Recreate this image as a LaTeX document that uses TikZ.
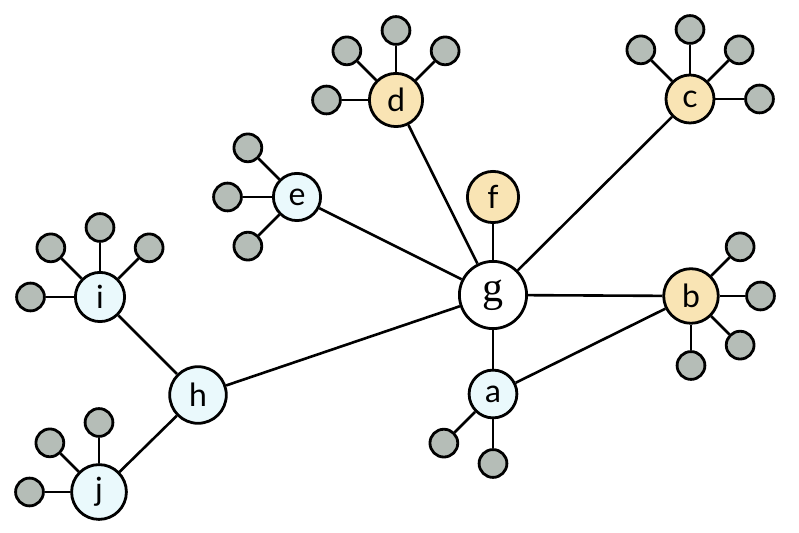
\documentclass[tikz,border=0pt]{standalone}
\usepackage{fontspec}
\setsansfont{Lato}
\newfontfamily\gfont{Liberation Serif}
\usetikzlibrary{calc}
\definecolor{nodeorange}{RGB}{249,228,180}
\definecolor{nodeblue}{RGB}{234,249,252}
\definecolor{leafgray}{RGB}{181,189,183}
\begin{document}
\begin{tikzpicture}[x=0.5pt,y=0.5pt,
  hub/.style={circle,draw=black,line width=1.4pt,inner sep=0pt,font=\sffamily\fontsize{16}{18}\selectfont},
  warm/.style={hub,fill=nodeorange},
  cool/.style={hub,fill=nodeblue},
  leaf/.style={circle,draw=black,line width=1.4pt,fill=leafgray,minimum size=13.9pt,inner sep=0pt},
  link/.style={line width=1.3pt}]
\useasboundingbox (0,0) rectangle (799,-533);
% main nodes
\node[hub, fill=white, minimum size=33.6pt, font=\gfont\fontsize{21}{24}\selectfont] (g) at (493,-295) {g};
\node[warm, minimum size=25.6pt] (f) at (493,-197) {f};
\node[cool, minimum size=23.9pt] (a) at (493,-394) {a};
\node[warm, minimum size=27.3pt] (b) at (691,-296) {b};
\node[warm, minimum size=24pt] (c) at (690,-99) {c};
\node[warm, minimum size=26.6pt] (d) at (396,-100) {d};
\node[cool, minimum size=23.6pt] (e) at (297,-197) {e};
\node[cool, minimum size=28.3pt] (h) at (198,-395) {h};
\node[cool, minimum size=24.6pt] (i) at (100,-297) {i};
\node[cool, minimum size=27.4pt] (j) at (99,-492) {j};
% main connectors
\draw[link] (g) -- (f);
\draw[link] (g) -- (a);
\draw[link] (g) -- (b);
\draw[link] (g) -- (c);
\draw[link] (g) -- (d);
\draw[link] (g) -- (e);
\draw[link] (g) -- (h);
\draw[link] (a) -- (b);
\draw[link] (h) -- (i);
\draw[link] (h) -- (j);
% leaves
\foreach \p/\angs in {d/{180,135,90,45}, c/{135,90,45,0}, e/{135,180,225},
                      b/{45,0,315,270}, i/{180,135,90,45}, j/{180,135,90}, a/{225,270}}{
  \foreach \ang in \angs {
    \node[leaf] (\p-\ang) at ($(\p)+(\ang:69.5)$) {};
    \draw[link] (\p) -- (\p-\ang);
  }
}
\end{tikzpicture}
\end{document}
